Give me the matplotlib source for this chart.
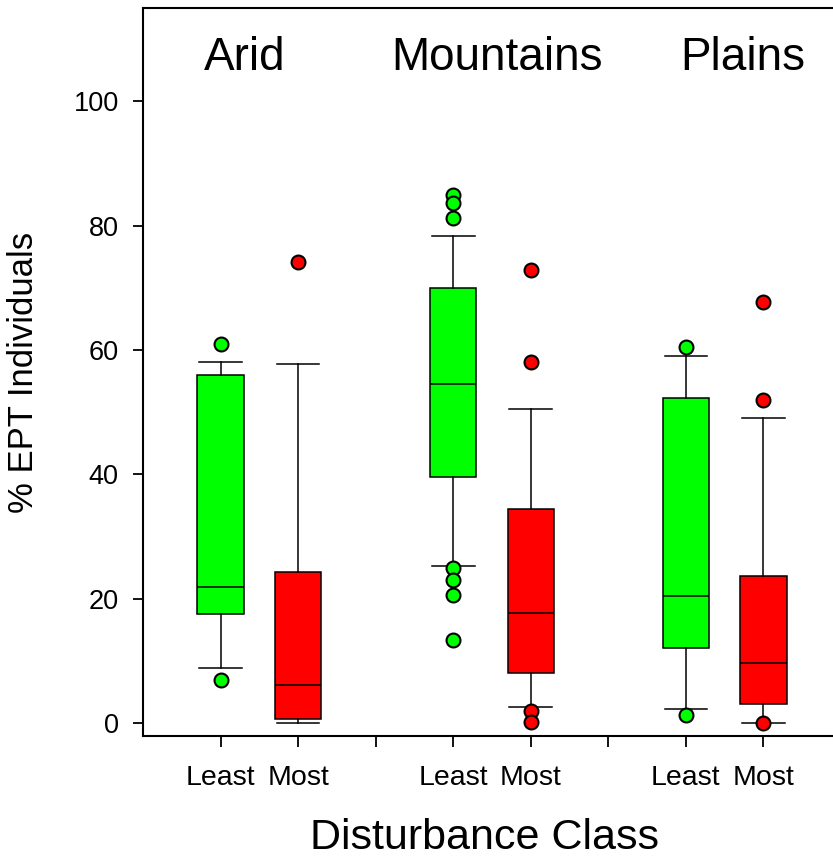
import matplotlib
matplotlib.use("Agg")
import matplotlib.pyplot as plt

plt.rcParams['font.family'] = ['Liberation Sans', 'DejaVu Sans']

regions = ["Arid", "Mountains", "Plains"]
classes = ["Least", "Most"]

# box stats, order: Arid L, Arid M, Mountains L, Mountains M, Plains L, Plains M
q1 = [17.5, 0.7, 39.5, 8.1, 12.1, 3.0]
med = [21.8, 6.1, 54.5, 17.7, 20.4, 9.7]
q3 = [56.0, 24.2, 69.9, 34.4, 52.3, 23.6]
whislo = [8.8, 0.0, 25.2, 2.6, 2.2, 0.0]
whishi = [58.1, 57.8, 78.4, 50.5, 59.1, 49.1]
fliers = [
    [60.9, 6.9],
    [74.2],
    [84.9, 83.6, 81.2, 25.0, 23.0, 20.6, 13.4],
    [72.8, 58.0, 2.0, 0.2],
    [60.4, 1.3],
    [67.7, 52.0, 0.0],
]
colors = ["#00ff00", "#ff0000"] * 3
positions = [1, 2, 4, 5, 7, 8]

fig = plt.figure(figsize=(8.33, 8.64), dpi=100)
ax = fig.add_axes([143 / 833, 1 - 736 / 864, (841 - 143) / 833, (736 - 8) / 864])

stats = []
for i in range(6):
    stats.append(dict(q1=q1[i], med=med[i], q3=q3[i], whislo=whislo[i],
                      whishi=whishi[i], fliers=fliers[i]))

for i, st in enumerate(stats):
    ax.bxp([st], positions=[positions[i]], widths=0.6, capwidths=0.55,
           patch_artist=True, manage_ticks=False,
           boxprops=dict(facecolor=colors[i], edgecolor="black", linewidth=1.1),
           medianprops=dict(color="black", linewidth=1.1),
           whiskerprops=dict(color="black", linewidth=1.1),
           capprops=dict(color="black", linewidth=1.1),
           flierprops=dict(marker="o", markerfacecolor=colors[i],
                           markeredgecolor="black", markersize=10,
                           markeredgewidth=1.5))

ax.set_xlim(0, 9)
ax.set_ylim(-2.1, 115)
ax.set_yticks([0, 20, 40, 60, 80, 100])
ax.set_xticks([1, 2, 3, 4, 5, 6, 7, 8])
ax.set_xticklabels(["Least", "Most", "", "Least", "Most", "", "Least", "Most"])
ax.tick_params(axis="x", length=8, width=1.3, labelsize=20.5, pad=13)
ax.tick_params(axis="y", length=7.5, width=1.3, labelsize=19.5, pad=10)
for s in ax.spines.values():
    s.set_linewidth(1.5)

# region titles inside the plot
title_x = [1.31, 4.56, 7.73]
for name, tx in zip(regions, title_x):
    ax.text(tx, 105.0, name, ha="center", va="baseline", fontsize=33)

ax.set_ylabel("% EPT Individuals", fontsize=25)
ax.yaxis.set_label_coords((40 - 143) / 698, 0.5)
fig.text(485 / 833, 1 - 849 / 864, "Disturbance Class", ha="center",
         va="baseline", fontsize=31)

fig.savefig("out.png", dpi=100)
